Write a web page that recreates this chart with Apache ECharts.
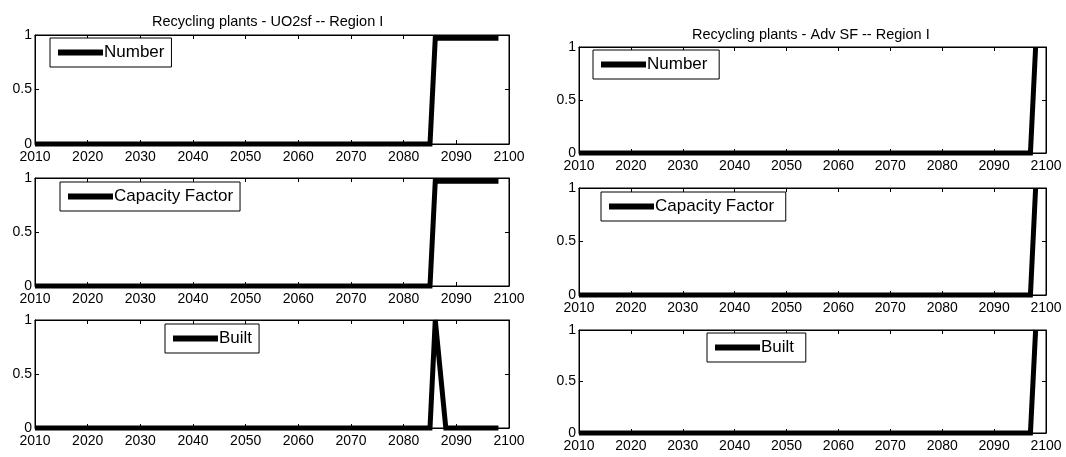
<!DOCTYPE html>
<html>
<head>
<meta charset="utf-8">
<script src="https://cdn.jsdelivr.net/npm/echarts@6/dist/echarts.min.js"></script>
<style>
html,body{margin:0;padding:0;background:#fff;}
#chart{width:1066px;height:457px;}
</style>
</head>
<body>
<div id="chart"></div>
<script>
// ---- data ----
const titles = ['Recycling plants - UO2sf -- Region I', 'Recycling plants - Adv SF -- Region I'];
const xTicks = [2010, 2020, 2030, 2040, 2050, 2060, 2070, 2080, 2090, 2100];
const yTicks = [0, 0.5, 1];

// left column (UO2sf)
const uoYears      = [2010, 2085, 2086, 2098];
const uoNumber     = [0, 0, 0.97, 0.97];
const uoCapacity   = [0, 0, 0.97, 0.97];
const uoBuiltYears = [2010, 2085, 2086, 2087, 2088, 2098];
const uoBuilt      = [0, 0, 1, 0.5, 0, 0];

// right column (Adv SF)
const advYears    = [2010, 2097, 2098];
const advNumber   = [0, 0, 1];
const advCapacity = [0, 0, 1];
const advBuilt    = [0, 0, 1];

const panelNames = ['Number', 'Capacity Factor', 'Built'];

// ---- layout ----
const panels = [
  {left: 35,  width: 474, top: 35,  height: 109, years: uoYears,      vals: uoNumber,   name: panelNames[0], lg: {left: 50,  top: 38}},
  {left: 35,  width: 474, top: 178, height: 108, years: uoYears,      vals: uoCapacity, name: panelNames[1], lg: {left: 60,  top: 182}},
  {left: 35,  width: 474, top: 320, height: 108, years: uoBuiltYears, vals: uoBuilt,    name: panelNames[2], lg: {left: 165, top: 324}},
  {left: 579, width: 467, top: 47,  height: 106, years: advYears,     vals: advNumber,  name: panelNames[0], lg: {left: 593, top: 50}},
  {left: 579, width: 467, top: 188, height: 107, years: advYears,     vals: advCapacity,name: panelNames[1], lg: {left: 601, top: 192}},
  {left: 579, width: 467, top: 330, height: 103, years: advYears,     vals: advBuilt,   name: panelNames[2], lg: {left: 707, top: 333}}
];

const FONT = 'Liberation Sans, Arial, sans-serif';
const grid = [], xAxis = [], yAxis = [], series = [], legend = [];

panels.forEach((p, i) => {
  grid.push({left: p.left, top: p.top, width: p.width, height: p.height, containLabel: false,
             show: true, borderColor: '#000', borderWidth: 1, backgroundColor: '#fff', z: 0});
  const xBase = {
    type: 'value', gridIndex: i, min: xTicks[0], max: xTicks[xTicks.length - 1], interval: 10,
    axisLine: {show: true, onZero: false, lineStyle: {color: '#000', width: 1}},
    axisTick: {show: true, inside: true, length: 4, lineStyle: {color: '#000'}},
    splitLine: {show: false}
  };
  xAxis.push(Object.assign({}, xBase, {position: 'bottom',
    axisLabel: {show: true, color: '#000', fontSize: 14, fontFamily: FONT, margin: 6,
                formatter: v => String(v)}}));
  xAxis.push(Object.assign({}, xBase, {position: 'top', axisLabel: {show: false}}));
  const yBase = {
    type: 'value', gridIndex: i, min: yTicks[0], max: yTicks[yTicks.length - 1], interval: 0.5,
    axisLine: {show: true, onZero: false, lineStyle: {color: '#000', width: 1}},
    axisTick: {show: true, inside: true, length: 4, lineStyle: {color: '#000'}},
    splitLine: {show: false}
  };
  yAxis.push(Object.assign({}, yBase, {position: 'left',
    axisLabel: {show: true, color: '#000', fontSize: 14, fontFamily: FONT, margin: 3,
                formatter: v => String(v)}}));
  yAxis.push(Object.assign({}, yBase, {position: 'right', axisLabel: {show: false}}));

  const seriesName = p.name + (i >= 3 ? ' ' : '');
  series.push({
    name: seriesName, type: 'line', xAxisIndex: 2 * i, yAxisIndex: 2 * i,
    data: p.years.map((y, k) => [y, p.vals[k]]),
    showSymbol: false, symbol: 'none', animation: false, clip: false,
    lineStyle: {color: '#000', width: 5, cap: 'butt', join: 'miter'},
    itemStyle: {color: '#000'}
  });
  legend.push({
    data: [seriesName], left: p.lg.left, top: p.lg.top, orient: 'horizontal',
    icon: 'rect', itemWidth: 45, itemHeight: 6, itemGap: 0,
    padding: [6, 7, 6, 8], backgroundColor: '#fff', borderColor: '#000', borderWidth: 1,
    borderRadius: 0, selectedMode: false,
    textStyle: {color: '#000', fontSize: 17, fontFamily: FONT, padding: [0, 0, 0, -4]},
    itemStyle: {color: '#000'}
  });
});

const option = {
  animation: false,
  backgroundColor: '#fff',
  title: [
    {text: titles[0], left: 147, top: 9, textStyle: {color: '#000', fontSize: 14.5, fontWeight: 'normal', fontFamily: FONT}},
    {text: titles[1], left: 687, top: 22, textStyle: {color: '#000', fontSize: 14.5, fontWeight: 'normal', fontFamily: FONT}}
  ],
  grid, xAxis, yAxis, series, legend
};

const chart = echarts.init(document.getElementById('chart'), null, {renderer: 'canvas'});
chart.setOption(option);
</script>
</body>
</html>
